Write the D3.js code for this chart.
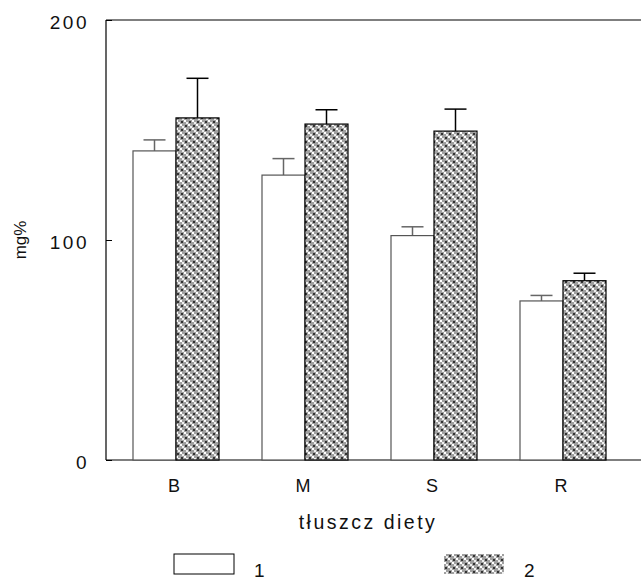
<!DOCTYPE html>
<html>
<head>
<meta charset="utf-8">
<script src="https://cdn.jsdelivr.net/npm/d3@7"></script>
<style>
  body { margin: 0; background: #fff; }
  text { font-family: "Liberation Sans", Arial, sans-serif; fill: #111; }
</style>
</head>
<body>
<div id="chart"></div>
<script>
const categories = ["B", "M", "S", "R"];
const seriesNames = ["1", "2"];
const means1 = [140.5, 129.5, 102, 72.3];
const errors1 = [5, 7.5, 4, 2.5];
const means2 = [155.5, 152.7, 149.5, 81.5];
const errors2 = [18, 6.5, 10, 3.4];
const yTicks = [0, 100, 200];

const width = 641, height = 580;
const plotLeft = 106, plotTop = 20, plotBottom = 460;

const svg = d3.select("#chart").append("svg")
  .attr("width", width).attr("height", height);

// checkered fill for series 2
const defs = svg.append("defs");
const pat = defs.append("pattern")
  .attr("id", "check").attr("patternUnits", "userSpaceOnUse")
  .attr("width", 8).attr("height", 8);
pat.append("rect").attr("width", 8).attr("height", 8).attr("fill", "#a0a0a0");
pat.append("path").attr("d", "M0 0h2v2h-2zM4 4h2v2h-2z").attr("fill", "#fff");
pat.append("path").attr("d", "M2 2h2v2h-2zM6 6h2v2h-2z").attr("fill", "#eee");
pat.append("rect").attr("x", 5).attr("y", 1).attr("width", 2).attr("height", 2).attr("fill", "#333");
pat.append("rect").attr("x", 1).attr("y", 5).attr("width", 2).attr("height", 2).attr("fill", "#333");

const y = d3.scaleLinear().domain([0, 200]).range([plotBottom, plotTop]);
const x = d3.scaleBand().domain(categories).range([111.5, 627.5])
  .paddingInner(1 / 3).paddingOuter(1 / 6);
const xs = d3.scaleBand().domain(seriesNames).range([0, x.bandwidth()]);

// frame: left axis, top line, bottom line
svg.append("line").attr("x1", plotLeft).attr("x2", plotLeft).attr("y1", plotTop).attr("y2", plotBottom)
  .attr("stroke", "#000").attr("stroke-width", 1.2);
svg.append("line").attr("x1", plotLeft).attr("x2", width).attr("y1", plotTop).attr("y2", plotTop)
  .attr("stroke", "#000").attr("stroke-width", 1.2);
svg.append("line").attr("x1", plotLeft).attr("x2", width).attr("y1", plotBottom).attr("y2", plotBottom)
  .attr("stroke", "#000").attr("stroke-width", 1.2);

// y axis ticks (inside) and labels
const yAxis = svg.append("g").attr("transform", `translate(${plotLeft},0)`)
  .call(d3.axisRight(y).tickValues(yTicks).tickSize(6).tickFormat(""));
yAxis.select(".domain").remove();
yAxis.selectAll("line").attr("stroke", "#000");
svg.selectAll(".ylab").data(yTicks).join("text")
  .attr("x", 89).attr("y", d => y(d) + 9)
  .attr("text-anchor", "end").attr("font-size", 19).attr("letter-spacing", 2.5)
  .text(d => d);

const data = categories.map((c, i) => [
  { cat: c, s: "1", v: means1[i], e: errors1[i] },
  { cat: c, s: "2", v: means2[i], e: errors2[i] }
]).flat();

// error bars (behind bars)
const eb = svg.append("g").selectAll("g").data(data).join("g")
  .attr("stroke", d => d.s === "1" ? "#666" : "#000").attr("stroke-width", 1.5);
eb.append("line")
  .attr("x1", d => x(d.cat) + xs(d.s) + xs.bandwidth() / 2)
  .attr("x2", d => x(d.cat) + xs(d.s) + xs.bandwidth() / 2)
  .attr("y1", d => y(d.v)).attr("y2", d => y(d.v + d.e));
eb.append("line")
  .attr("x1", d => x(d.cat) + xs(d.s) + xs.bandwidth() / 2 - 11)
  .attr("x2", d => x(d.cat) + xs(d.s) + xs.bandwidth() / 2 + 11)
  .attr("y1", d => y(d.v + d.e)).attr("y2", d => y(d.v + d.e));

// bars
svg.append("g").selectAll("rect").data(data).join("rect")
  .attr("x", d => x(d.cat) + xs(d.s))
  .attr("y", d => y(d.v))
  .attr("width", xs.bandwidth())
  .attr("height", d => plotBottom - y(d.v))
  .attr("fill", d => d.s === "1" ? "#fff" : "url(#check)")
  .attr("stroke", d => d.s === "1" ? "#555" : "#000")
  .attr("stroke-width", 1.2);

// x category labels
svg.selectAll(".xlab").data(categories).join("text")
  .attr("x", d => x(d) + x.bandwidth() / 2 - 2).attr("y", 492)
  .attr("text-anchor", "middle").attr("font-size", 18)
  .text(d => d);

// axis titles
svg.append("text").attr("x", 368).attr("y", 529)
  .attr("text-anchor", "middle").attr("font-size", 19.5).attr("letter-spacing", 2.5)
  .text("tłuszcz diety");
svg.append("text")
  .attr("transform", `translate(26,${(plotTop + plotBottom) / 2}) rotate(-90)`)
  .attr("text-anchor", "middle").attr("font-size", 17)
  .text("mg%");

// legend
const legendX = d3.scalePoint().domain(seriesNames).range([174, 444]);
const lg = svg.append("g").selectAll("g").data(seriesNames).join("g")
  .attr("transform", d => `translate(${legendX(d)},554)`);
lg.append("rect").attr("width", 60).attr("height", 20)
  .attr("fill", d => d === "1" ? "#fff" : "url(#check)")
  .attr("stroke", d => d === "1" ? "#000" : "none").attr("stroke-width", 1);
lg.append("text").attr("x", 80).attr("y", 577).attr("font-size", 19)
  .attr("y", 23)
  .text(d => d);
</script>
</body>
</html>
